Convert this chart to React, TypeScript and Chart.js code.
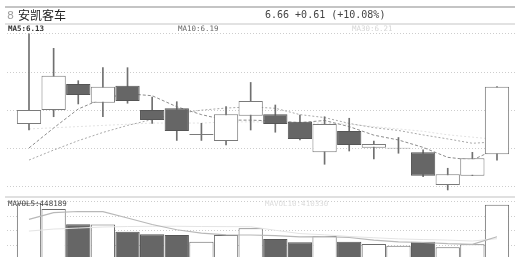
import React, { useEffect, useRef } from "react";
import { Chart, registerables } from "chart.js";

Chart.register(...registerables);

// ---- data ----
const days = [1, 2, 3, 4, 5, 6, 7, 8, 9, 10, 11, 12, 13, 14, 15, 16, 17, 18, 19, 20];
const opens = [6.342, 6.461, 6.683, 6.524, 6.669, 6.461, 6.476, 6.249, 6.197, 6.412, 6.425, 6.362, 6.101, 6.283, 6.14, 6.133, 6.101, 5.823, 5.902, 6.084];
const closes = [6.461, 6.754, 6.589, 6.66, 6.538, 6.376, 6.283, 6.257, 6.425, 6.538, 6.342, 6.214, 6.342, 6.163, 6.172, 6.14, 5.902, 5.914, 6.05, 6.66];
const highs = [7.11, 6.987, 6.711, 6.822, 6.822, 6.572, 6.532, 6.348, 6.49, 6.696, 6.504, 6.419, 6.404, 6.391, 6.197, 6.227, 6.121, 5.965, 6.101, 6.66];
const lows = [6.291, 6.404, 6.513, 6.404, 6.519, 6.348, 6.202, 6.202, 6.163, 6.291, 6.272, 6.206, 5.999, 6.112, 6.044, 6.093, 5.893, 5.78, 5.902, 6.035];
const ma5 = [6.138, 6.308, 6.47, 6.56, 6.6, 6.583, 6.489, 6.422, 6.375, 6.375, 6.368, 6.354, 6.372, 6.32, 6.247, 6.206, 6.143, 6.058, 6.035, 6.133];
const ma10 = [6.035, 6.12, 6.2, 6.27, 6.33, 6.38, 6.43, 6.46, 6.478, 6.488, 6.476, 6.422, 6.397, 6.347, 6.311, 6.287, 6.249, 6.215, 6.178, 6.19];
const ma30 = [6.3, 6.31, 6.32, 6.33, 6.34, 6.35, 6.35, 6.35, 6.36, 6.36, 6.36, 6.35, 6.35, 6.34, 6.32, 6.3, 6.28, 6.25, 6.23, 6.21];
const volumes = [1107600, 995300, 693800, 690000, 547900, 496700, 482900, 350800, 482900, 614900, 404000, 339000, 463200, 350800, 305500, 272000, 350800, 240400, 299600, 1078000];
const mavol5 = [792300, 922400, 946000, 942100, 817900, 690000, 586000, 518000, 485000, 483000, 470000, 445000, 452000, 434000, 380000, 348000, 335000, 312000, 300000, 448189];
const mavol10 = [560000, 600000, 620000, 640000, 650000, 655000, 655000, 650000, 648000, 646280, 575920, 510290, 487230, 453310, 429070, 406600, 393390, 382350, 364020, 410330];
const priceGrid = [7.11, 6.785, 6.46, 6.135, 5.81];
const volumeGrid = [283800, 567600, 851400, 1135200];

const stockCode = "8";
const stockName = "安凯客车";
const quoteText = "6.66 +0.61 (+10.08%)";
const ma5Label = "MA5:6.13";
const ma10Label = "MA10:6.19";
const ma30Label = "MA30:6.21";
const mavol5Label = "MAVOL5:448189";
const mavol10Label = "MAVOL10:410330";

const UP_FILL = "#ffffff";
const DOWN_FILL = "#666666";

export default function App() {
  const ref = useRef<HTMLCanvasElement | null>(null);

  useEffect(() => {
    const up = closes.map((c, i) => c >= opens[i]);
    const lineDs = (vals: number[], color: string, dash: number[], axis: string, order: number, width = 1) => ({
      type: "line" as const,
      data: days.map((d, i) => ({ x: d, y: vals[i] })),
      borderColor: color,
      borderWidth: width,
      borderDash: dash,
      pointRadius: 0,
      tension: 0,
      fill: false,
      yAxisID: axis,
      order,
    });

    const chart = new Chart(ref.current as HTMLCanvasElement, {
      type: "bar",
      data: {
        datasets: [
          lineDs(ma30, "#e2e2e2", [2, 2], "y", 12),
          lineDs(ma10, "#a8a8a8", [2, 2], "y", 11),
          lineDs(ma5, "#8c8c8c", [3, 2], "y", 10),
          {
            type: "bar",
            data: days.map((d, i) => ({ x: d, y: [lows[i], highs[i]] })),
            backgroundColor: "#707070",
            borderWidth: 0,
            barThickness: 1,
            grouped: false,
            yAxisID: "y",
            order: 5,
          } as any,
          {
            type: "bar",
            data: days.map((d, i) => ({ x: d, y: [Math.min(opens[i], closes[i]), Math.max(opens[i], closes[i])] })),
            backgroundColor: up.map((u) => (u ? UP_FILL : DOWN_FILL)),
            borderColor: up.map((u) => (u ? "#7a7a7a" : "#555555")),
            borderWidth: 1,
            borderSkipped: false,
            grouped: false,
            categoryPercentage: 0.985,
            barPercentage: 1,
            yAxisID: "y",
            order: 4,
          } as any,
          {
            type: "bar",
            data: days.map((d, i) => ({ x: d, y: volumes[i] })),
            backgroundColor: up.map((u) => (u ? UP_FILL : DOWN_FILL)),
            borderColor: up.map((u) => (u ? "#6a6a6a" : "#555555")),
            borderWidth: 1,
            borderSkipped: "start",
            grouped: false,
            categoryPercentage: 0.985,
            barPercentage: 1,
            yAxisID: "y2",
            order: 3,
          } as any,
          lineDs(mavol10, "#e4e4e4", [], "y2", 2),
          lineDs(mavol5, "#b8b8b8", [], "y2", 1, 1.2),
        ],
      },
      options: {
        responsive: false,
        maintainAspectRatio: false,
        animation: false,
        events: [],
        layout: { padding: { left: 7, top: 26, right: 0, bottom: 0 } },
        plugins: { legend: { display: false }, tooltip: { enabled: false }, title: { display: false } },
        scales: {
          x: {
            type: "linear",
            display: false,
            offset: false,
            min: 0.107,
            max: 20.731,
            afterBuildTicks: (s: any) => {
              s.ticks = days.map((v) => ({ value: v }));
            },
          },
          y: {
            type: "linear",
            position: "left",
            min: 5.209,
            max: 7.177,
            afterBuildTicks: (s: any) => {
              s.ticks = priceGrid.map((v) => ({ value: v }));
            },
            ticks: { display: false },
            grid: { color: "#cdcdcd", drawTicks: false, lineWidth: 1 },
            border: { display: false, dash: [1, 2] },
          },
          y2: {
            type: "linear",
            position: "right",
            min: 49272,
            max: 4602052,
            afterBuildTicks: (s: any) => {
              s.ticks = volumeGrid.map((v) => ({ value: v }));
            },
            ticks: { display: false },
            grid: { color: "#cdcdcd", drawTicks: false, lineWidth: 1 },
            border: { display: false, dash: [1, 2] },
          },
        },
      } as any,
    });
    return () => chart.destroy();
  }, []);

  const mono = '"DejaVu Sans Mono", "Liberation Mono", monospace';
  const abs = (s: React.CSSProperties): React.CSSProperties => ({ position: "absolute", whiteSpace: "nowrap", ...s });

  return (
    <div style={{ position: "fixed", left: 0, top: 0, width: 515, height: 257, background: "#fff", overflow: "hidden" }}>
      <canvas ref={ref} width={515} height={257} style={{ position: "absolute", left: 0, top: 0, width: 515, height: 257 }} />
      <div style={abs({ left: 5, top: 6, width: 510, height: 2, background: "#c4c4c4" })} />
      <div style={abs({ left: 5, top: 23, width: 510, height: 2, background: "#e2e2e2" })} />
      <div style={abs({ left: 5, top: 196, width: 510, height: 2, background: "#e0e0e0" })} />
      <div style={abs({ left: 7, top: 9, fontSize: 11, lineHeight: "13px", color: "#a0a0a0", fontFamily: "DejaVu Sans, sans-serif" })}>{stockCode}</div>
      <div style={abs({ left: 18, top: 7, fontSize: 12, lineHeight: "15px", color: "#222", fontFamily: '"Noto Sans CJK SC", sans-serif' })}>{stockName}</div>
      <div style={abs({ left: 265, top: 9, fontSize: 10, lineHeight: "12px", color: "#444", fontFamily: mono })}>{quoteText}</div>
      <div style={abs({ left: 8, top: 24, fontSize: 7.5, lineHeight: "9px", color: "#333", fontFamily: mono, fontWeight: 700 })}>{ma5Label}</div>
      <div style={abs({ left: 178, top: 24, fontSize: 7.5, lineHeight: "9px", color: "#666", fontFamily: mono })}>{ma10Label}</div>
      <div style={abs({ left: 352, top: 24, fontSize: 7.5, lineHeight: "9px", color: "#d6d6d6", fontFamily: mono })}>{ma30Label}</div>
      <div style={abs({ left: 8, top: 199, fontSize: 7.5, lineHeight: "9px", color: "#444", fontFamily: mono })}>{mavol5Label}</div>
      <div style={abs({ left: 265, top: 199, fontSize: 7.5, lineHeight: "9px", color: "#dcdcdc", fontFamily: mono })}>{mavol10Label}</div>
    </div>
  );
}
